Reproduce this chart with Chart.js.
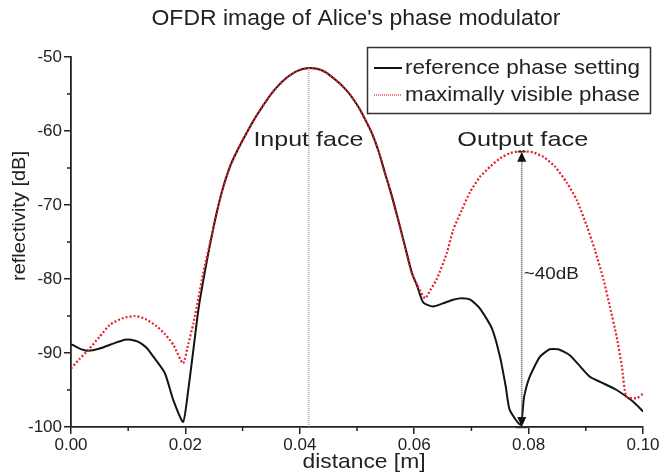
<!DOCTYPE html>
<html><head><meta charset="utf-8">
<script src="https://cdn.jsdelivr.net/npm/chart.js@4.4.1/dist/chart.umd.min.js"></script>
<style>html,body{margin:0;padding:0;background:#fff}</style>
</head><body>
<canvas id="c" width="662" height="476"></canvas>
<script>
const titleText = "OFDR image of Alice's phase modulator";
const xTitle = "distance [m]";
const yTitle = "reflectivity [dB]";
const seriesNames = ["reference phase setting", "maximally visible phase"];
const xTickLabels = ["0.00", "0.02", "0.04", "0.06", "0.08", "0.10"];
const yTickLabels = ["-50", "-60", "-70", "-80", "-90", "-100"];

const refX = [0.0000,0.0015,0.0030,0.0050,0.0075,0.0094,0.0105,0.0118,0.0132,0.0144,0.0164,0.0179,0.0196,0.0205,0.0214,0.0223,0.0235,0.0247,0.0256,0.0266,0.0279,0.0293,0.0306,0.0319,0.0333,0.0348,0.0362,0.0377,0.0395,0.0415,0.0430,0.0444,0.0458,0.0473,0.0488,0.0502,0.0514,0.0526,0.0538,0.0549,0.0561,0.0572,0.0584,0.0596,0.0605,0.0616,0.0633,0.0650,0.0668,0.0683,0.0698,0.0715,0.0736,0.0750,0.0760,0.0767,0.0786,0.0792,0.0802,0.0820,0.0837,0.0852,0.0872,0.0890,0.0907,0.0925,0.0954,0.0983,0.1000];
const refY = [-88.8,-89.4,-89.7,-89.4,-88.7,-88.2,-88.2,-88.5,-89.3,-90.5,-92.7,-96.4,-99.3,-95.0,-89.5,-84.0,-78.6,-73.8,-70.6,-67.6,-64.6,-62.3,-60.4,-58.6,-56.9,-55.2,-53.9,-52.8,-51.9,-51.5,-51.6,-52.0,-52.8,-53.8,-55.1,-56.7,-58.4,-60.3,-62.8,-65.7,-68.8,-72.0,-75.6,-79.2,-80.9,-83.2,-83.7,-83.3,-82.8,-82.6,-82.8,-84.0,-86.7,-90.5,-94.5,-97.7,-99.7,-96.0,-93.2,-90.5,-89.5,-89.5,-90.3,-91.8,-93.2,-93.9,-95.0,-96.6,-97.9];

const visX = [0.0000,0.0015,0.0030,0.0050,0.0068,0.0090,0.0112,0.0130,0.0150,0.0165,0.0179,0.0196,0.0205,0.0214,0.0223,0.0231,0.0247,0.0256,0.0266,0.0279,0.0293,0.0306,0.0319,0.0333,0.0348,0.0362,0.0377,0.0395,0.0415,0.0430,0.0444,0.0458,0.0473,0.0488,0.0502,0.0514,0.0526,0.0538,0.0549,0.0561,0.0572,0.0584,0.0596,0.0605,0.0619,0.0628,0.0639,0.0657,0.0668,0.0683,0.0698,0.0715,0.0733,0.0750,0.0767,0.0788,0.0808,0.0826,0.0846,0.0867,0.0884,0.0902,0.0916,0.0931,0.0942,0.0954,0.0963,0.0971,0.0989,0.1000];
const visY = [-92.1,-90.8,-89.6,-87.8,-86.2,-85.3,-85.0,-85.4,-86.4,-87.5,-88.9,-91.4,-88.8,-86.0,-82.5,-79.2,-73.8,-70.6,-67.6,-64.6,-62.3,-60.4,-58.6,-56.9,-55.2,-53.9,-52.8,-51.9,-51.5,-51.6,-52.0,-52.8,-53.8,-55.1,-56.7,-58.4,-60.3,-62.8,-65.7,-68.8,-72.0,-75.6,-79.2,-80.8,-82.6,-81.5,-80.1,-76.5,-73.4,-70.7,-68.2,-66.2,-64.8,-63.7,-63.0,-62.7,-62.9,-63.5,-64.8,-67.0,-69.3,-72.9,-76.1,-80.1,-83.7,-87.8,-91.8,-95.9,-96.1,-95.5];

const faceLabels = ["Input face", "Output face"];
const inputFaceX = [0.0415];
const inputFacePeak = [-51.5];
const arrowX = [0.0788];
const arrowRange = [-62.8, -100];
const arrowLabel = "~40dB";

const FONT = '"Liberation Sans", Arial, Helvetica, sans-serif';
const TXT = '#222';

function fitText(ctx, text, x, y, size, width, align, rot) {
  ctx.save();
  ctx.font = size + 'px ' + FONT;
  const w = ctx.measureText(text).width;
  const s = width / w;
  ctx.translate(x, y);
  if (rot) ctx.rotate(rot);
  ctx.scale(s, 1);
  ctx.textAlign = align;
  ctx.textBaseline = 'middle';
  ctx.fillStyle = TXT;
  ctx.fillText(text, 0, 0);
  ctx.restore();
}

const extras = {
  id: 'extras',
  afterDraw(chart) {
    const ctx = chart.ctx;
    const xs = chart.scales.x, ys = chart.scales.y;
    const ca = chart.chartArea;
    ctx.save();
    ctx.strokeStyle = '#222'; ctx.lineWidth = 1.5;
    xs.ticks.forEach(t => {
      if (Math.round(t.value * 100) % 2 !== 0) {
        const px = xs.getPixelForValue(t.value);
        ctx.beginPath(); ctx.moveTo(px, ca.bottom); ctx.lineTo(px, ca.bottom + 4); ctx.stroke();
      }
    });
    ys.ticks.forEach(t => {
      if (Math.round(t.value) % 10 !== 0) {
        const py = ys.getPixelForValue(t.value);
        ctx.beginPath(); ctx.moveTo(ca.left, py); ctx.lineTo(ca.left - 4, py); ctx.stroke();
      }
    });
    const ix = xs.getPixelForValue(inputFaceX[0]);
    ctx.strokeStyle = '#777'; ctx.lineWidth = 1; ctx.setLineDash([1, 1]);
    ctx.beginPath(); ctx.moveTo(ix + 0.5, ys.getPixelForValue(inputFacePeak[0])); ctx.lineTo(ix + 0.5, ca.bottom); ctx.stroke();
    const ax = xs.getPixelForValue(arrowX[0]);
    const aTop = ys.getPixelForValue(arrowRange[0]);
    const aBot = ys.getPixelForValue(arrowRange[1]);
    ctx.strokeStyle = '#555'; ctx.lineWidth = 1.5; ctx.setLineDash([1, 1]);
    ctx.beginPath(); ctx.moveTo(ax, aTop + 8); ctx.lineTo(ax, aBot - 8); ctx.stroke();
    ctx.setLineDash([]);
    ctx.fillStyle = '#111';
    ctx.beginPath(); ctx.moveTo(ax, aTop); ctx.lineTo(ax - 4.5, aTop + 10); ctx.lineTo(ax + 4.5, aTop + 10); ctx.closePath(); ctx.fill();
    ctx.beginPath(); ctx.moveTo(ax, aBot); ctx.lineTo(ax - 4.5, aBot - 10); ctx.lineTo(ax + 4.5, aBot - 10); ctx.closePath(); ctx.fill();
    ctx.strokeStyle = '#333'; ctx.lineWidth = 1.5;
    ctx.beginPath(); ctx.moveTo(ax - 4, aTop); ctx.lineTo(ax + 4, aTop); ctx.stroke();
    ctx.beginPath(); ctx.moveTo(ax - 6, aBot + 0.5); ctx.lineTo(ax + 6, aBot + 0.5); ctx.stroke();
    fitText(ctx, faceLabels[0], ix, 140, 21, 110, 'center');
    fitText(ctx, faceLabels[1], ax + 1, 140, 21, 131, 'center');
    fitText(ctx, arrowLabel, ax + 2, 274, 17, 55, 'left');
    fitText(ctx, titleText, 356, 19, 22, 409, 'center');
    fitText(ctx, xTitle, 364, 462, 21, 123, 'center');
    fitText(ctx, yTitle, 20, 216, 19, 130, 'center', -Math.PI / 2);
    ctx.strokeStyle = '#333'; ctx.lineWidth = 1.5;
    ctx.strokeRect(367.5, 47.5, 283, 66);
    ctx.strokeStyle = '#111'; ctx.lineWidth = 2;
    ctx.beginPath(); ctx.moveTo(374, 68); ctx.lineTo(402, 68); ctx.stroke();
    ctx.strokeStyle = '#e62129'; ctx.lineWidth = 1.2; ctx.setLineDash([1, 1]);
    ctx.beginPath(); ctx.moveTo(374, 95); ctx.lineTo(402, 95); ctx.stroke();
    ctx.setLineDash([]);
    fitText(ctx, seriesNames[0], 405, 68, 21, 235, 'left');
    fitText(ctx, seriesNames[1], 405, 95, 21, 235, 'left');
    ctx.restore();
  }
};

new Chart(document.getElementById('c').getContext('2d'), {
  type: 'line',
  data: {
    datasets: [
      { label: seriesNames[1], data: visX.map((x, i) => ({ x: x, y: visY[i] })), borderColor: '#e62129', borderWidth: 2.2, borderDash: [2, 2], pointRadius: 0, tension: 0.2, fill: false, order: 1 },
      { label: seriesNames[0], data: refX.map((x, i) => ({ x: x, y: refY[i] })), borderColor: '#141414', borderWidth: 2, pointRadius: 0, tension: 0.2, fill: false, order: 2 }
    ]
  },
  options: {
    responsive: false, animation: false, devicePixelRatio: 1,
    layout: { padding: { left: 0, right: 19, top: 57, bottom: 0 } },
    plugins: { legend: { display: false }, title: { display: false }, tooltip: { enabled: false } },
    scales: {
      x: {
        type: 'linear', min: 0, max: 0.1,
        afterBuildTicks: s => { s.ticks = Array.from({ length: 11 }, (_, i) => ({ value: i / 100 })); },
        afterFit: s => { s.height = 49; },
        ticks: {
          autoSkip: false, maxRotation: 0, color: TXT, padding: 1,
          font: { family: FONT, size: 17 },
          callback: v => { const i = Math.round(v * 100); return i % 2 === 0 ? xTickLabels[i / 2] : ''; }
        },
        grid: { drawOnChartArea: false, tickLength: 7, lineWidth: 1.5,
          color: c => (c.tick && Math.round(c.tick.value * 100) % 2 === 0) ? '#222' : 'rgba(0,0,0,0)' },
        border: { color: '#222', width: 1.8 }
      },
      y: {
        type: 'linear', min: -100, max: -50,
        afterBuildTicks: s => { s.ticks = Array.from({ length: 11 }, (_, i) => ({ value: -100 + i * 5 })); },
        afterFit: s => { s.width = 71; },
        ticks: {
          autoSkip: false, color: TXT, padding: 2,
          font: { family: FONT, size: 17 },
          callback: v => (Math.round(v) % 10 === 0) ? yTickLabels[Math.round((-50 - v) / 10)] : ''
        },
        grid: { drawOnChartArea: false, tickLength: 7, lineWidth: 1.5,
          color: c => (c.tick && Math.round(c.tick.value) % 10 === 0) ? '#222' : 'rgba(0,0,0,0)' },
        border: { color: '#222', width: 1.8 }
      }
    }
  },
  plugins: [extras]
});
</script>
</body></html>
